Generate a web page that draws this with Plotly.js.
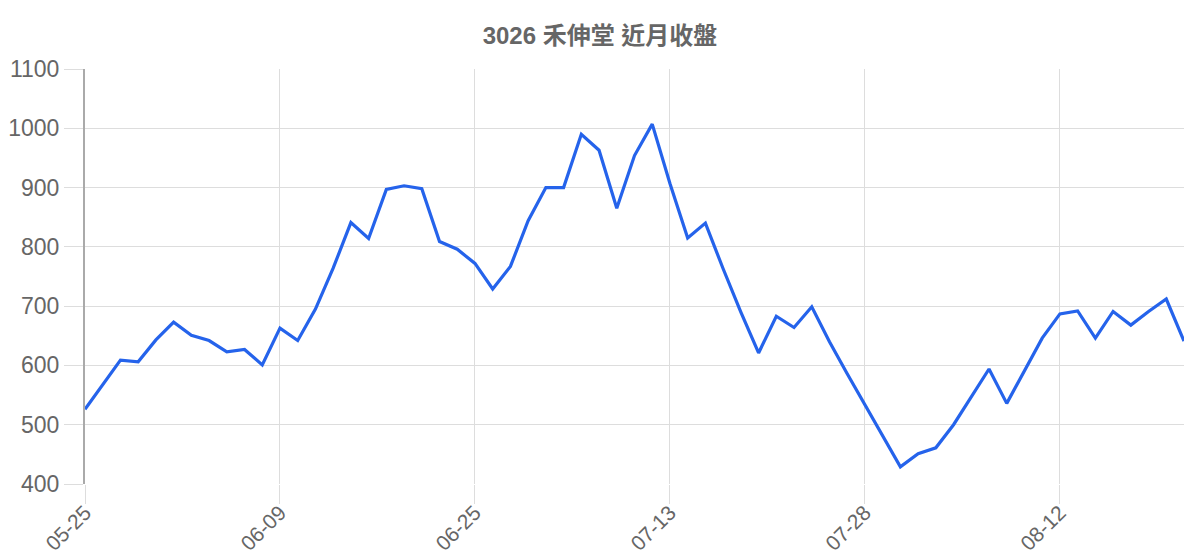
<!DOCTYPE html>
<html>
<head>
<meta charset="utf-8">
<script src="https://cdn.plot.ly/plotly-3.0.1.min.js"></script>
<style>
  html, body { margin: 0; padding: 0; background: #fff; }
  #chart { width: 1200px; height: 560px; }
</style>
</head>
<body>
<div id="chart"></div>
<script>
// trading days shown on the chart (MM-DD)
const days = [
  '05-25', '05-26', '05-27', '05-28', '05-29', '06-01', '06-02', '06-03', '06-04', '06-05', '06-08',
  '06-09', '06-10', '06-11', '06-15', '06-16', '06-17', '06-18', '06-19', '06-22', '06-23', '06-24',
  '06-25', '06-29', '06-30', '07-01', '07-02', '07-03', '07-06', '07-07', '07-08', '07-09', '07-10',
  '07-13', '07-14', '07-15', '07-16', '07-17', '07-20', '07-21', '07-22', '07-23', '07-24', '07-27',
  '07-28', '07-29', '07-30', '07-31', '08-03', '08-04', '08-05', '08-06', '08-07', '08-10', '08-11',
  '08-12', '08-13', '08-14', '08-17', '08-18', '08-19', '08-20', '08-21'
];

// closing price
const close = [
  526, 568, 609, 606, 643, 673, 651, 642, 623, 627, 601,
  663, 642, 695, 764, 841, 814, 897, 903, 898, 809, 796,
  772, 729, 767, 844, 900, 900, 990, 963, 865, 954, 1007,
  907, 815, 840, 763, 690, 621, 683, 664, 699, 640, 586,
  533, 480, 429, 451, 461, 500, 547, 594, 536, 591, 646,
  687, 692, 646, 691, 668, 691, 712, 641
];

const tickDays = ['05-25', '06-09', '06-25', '07-13', '07-28', '08-12'];
const yTicks = [400, 500, 600, 700, 800, 900, 1000, 1100];

const trace = {
  x: days,
  y: close,
  type: 'scatter',
  mode: 'lines',
  line: { color: '#2563eb', width: 3.2 },
  hoverinfo: 'x+y'
};

Plotly.newPlot('chart', [trace], {
  width: 1200,
  height: 560,
  showlegend: false,
  paper_bgcolor: '#ffffff',
  plot_bgcolor: '#ffffff',
  margin: { l: 85, r: 16, t: 69, b: 76 },
  font: { family: '"Liberation Sans", Arial, "Noto Sans CJK TC", sans-serif', color: '#666666' },
  title: {
    text: '<b>3026 禾伸堂 近月收盤</b>',
    x: 0.5,
    xanchor: 'center',
    y: 0.937,
    yanchor: 'middle',
    font: { family: '"Liberation Sans", "Noto Sans CJK TC", sans-serif', size: 24, color: '#666666' }
  },
  xaxis: {
    type: 'category',
    range: [0, days.length - 1],
    tickmode: 'array',
    tickvals: tickDays,
    ticktext: tickDays,
    tickangle: -45,
    tickfont: { size: 21, color: '#666666' },
    ticks: 'outside',
    ticklen: 19,
    ticklabelstandoff: -12,
    tickcolor: '#dddddd',
    showgrid: true,
    gridcolor: '#dddddd',
    gridwidth: 1,
    showline: false,
    zeroline: false
  },
  yaxis: {
    range: [400, 1100],
    tickmode: 'array',
    tickvals: yTicks,
    tickfont: { size: 23, color: '#666666' },
    ticks: 'outside',
    ticklen: 19,
    tickcolor: '#dddddd',
    showgrid: true,
    gridcolor: '#dddddd',
    gridwidth: 1,
    showline: true,
    linecolor: '#aaaaaa',
    linewidth: 2,
    zeroline: false
  }
}, { displayModeBar: false, staticPlot: true });
</script>
</body>
</html>
